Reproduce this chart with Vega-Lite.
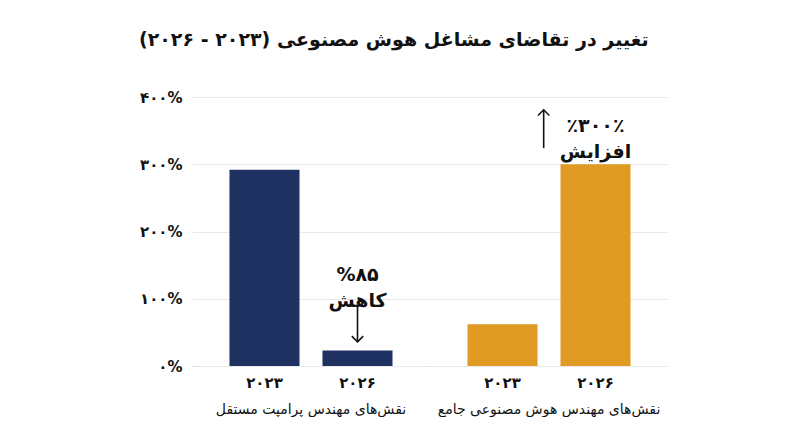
{
  "$schema": "https://vega.github.io/schema/vega-lite/v6.json",
  "background": "white",
  "padding": {"left": 139, "top": 31, "right": 0, "bottom": 0},
  "title": {
    "text": "\u202bتغییر در تقاضای مشاغل هوش مصنوعی (۲۰۲۳ - ۲۰۲۶)\u202c",
    "fontSize": 19,
    "fontWeight": "bold",
    "font": "DejaVu Sans",
    "color": "#111111",
    "anchor": "middle",
    "dx": -10,
    "offset": 40
  },
  "data": {
    "values": [
      {"group": "نقش\u200cهای مهندس پرامپت مستقل", "year": "۲۰۲۳", "value": 292},
      {"group": "نقش\u200cهای مهندس پرامپت مستقل", "year": "۲۰۲۶", "value": 23,
       "note": ["%۸۵", "کاهش"], "noteY": 135, "arrowFrom": 90, "arrowTo": 36},
      {"group": "نقش\u200cهای مهندس هوش مصنوعی جامع", "year": "۲۰۲۳", "value": 62},
      {"group": "نقش\u200cهای مهندس هوش مصنوعی جامع", "year": "۲۰۲۶", "value": 300,
       "note": ["٪۳۰۰٪", "افزایش"], "noteY": 357, "arrowFrom": 324, "arrowTo": 381}
    ]
  },
  "spacing": 0,
  "facet": {
    "column": {
      "field": "group",
      "type": "nominal",
      "sort": ["نقش\u200cهای مهندس پرامپت مستقل", "نقش\u200cهای مهندس هوش مصنوعی جامع"],
      "title": null,
      "header": {
        "labelOrient": "bottom",
        "labelAlign": "center",
        "labelFontSize": 14,
        "labelFontWeight": 500,
        "labelFont": "DejaVu Sans",
        "labelColor": "#111111",
        "labelPadding": 13
      }
    }
  },
  "spec": {
    "width": 238,
    "height": 269,
    "encoding": {
      "x": {
        "field": "year",
        "type": "nominal",
        "sort": ["۲۰۲۳", "۲۰۲۶"],
        "scale": {"paddingInner": 0.247, "paddingOuter": 0.403},
        "axis": {
          "title": null,
          "labelAngle": 0,
          "ticks": false,
          "domainColor": "#777777",
          "labelFontSize": 15,
          "labelFontWeight": "bold",
          "labelFont": "DejaVu Sans",
          "labelColor": "#111111",
          "labelPadding": 9
        }
      }
    },
    "layer": [
      {
        "mark": {"type": "bar"},
        "encoding": {
          "y": {
            "field": "value",
            "type": "quantitative",
            "scale": {"domain": [0, 400]},
            "axis": {
              "title": null,
              "values": [0, 100, 200, 300, 400],
              "labelExpr": "{'0': '۰%', '100': '۱۰۰%', '200': '۲۰۰%', '300': '۳۰۰%', '400': '۴۰۰%'}[datum.value]",
              "domain": false,
              "ticks": false,
              "gridColor": "#e8e8e8",
              "labelFontSize": 15,
              "labelFontWeight": "bold",
              "labelFont": "DejaVu Sans",
              "labelColor": "#111111",
              "labelPadding": 10
            }
          },
          "color": {
            "field": "group",
            "type": "nominal",
            "scale": {
              "domain": ["نقش\u200cهای مهندس پرامپت مستقل", "نقش\u200cهای مهندس هوش مصنوعی جامع"],
              "range": ["#1e3160", "#e09b25"]
            },
            "legend": null
          }
        }
      },
      {
        "transform": [{"filter": "isValid(datum.noteY)"}],
        "mark": {
          "type": "text",
          "fontSize": 19,
          "fontWeight": "bold",
          "font": "DejaVu Sans",
          "color": "#111111",
          "baseline": "middle",
          "lineHeight": 26
        },
        "encoding": {
          "y": {"field": "noteY", "type": "quantitative"},
          "text": {"field": "note"}
        }
      },
      {
        "transform": [{"filter": "isValid(datum.arrowFrom) && datum.arrowTo < datum.arrowFrom"}],
        "layer": [
          {
            "mark": {"type": "rule", "color": "#111111", "strokeWidth": 1.6},
            "encoding": {
              "y": {"field": "arrowFrom", "type": "quantitative"},
              "y2": {"field": "arrowTo"}
            }
          },
          {
            "mark": {"type": "point", "shape": "M-1,-1L0,0L1,-1", "size": 130, "filled": false, "color": "#111111", "strokeWidth": 1.6, "opacity": 1},
            "encoding": {
              "y": {"field": "arrowTo", "type": "quantitative"}
            }
          }
        ]
      },
      {
        "transform": [{"filter": "isValid(datum.arrowFrom) && datum.arrowTo > datum.arrowFrom"}],
        "layer": [
          {
            "mark": {"type": "rule", "color": "#111111", "strokeWidth": 1.6},
            "encoding": {
              "x": {"field": "year", "type": "nominal", "sort": ["۲۰۲۳", "۲۰۲۶"], "bandPosition": -0.24},
              "y": {"field": "arrowFrom", "type": "quantitative"},
              "y2": {"field": "arrowTo"}
            }
          },
          {
            "mark": {"type": "point", "shape": "M-1,1L0,0L1,1", "size": 130, "filled": false, "color": "#111111", "strokeWidth": 1.6, "opacity": 1},
            "encoding": {
              "x": {"field": "year", "type": "nominal", "sort": ["۲۰۲۳", "۲۰۲۶"], "bandPosition": -0.24},
              "y": {"field": "arrowTo", "type": "quantitative"}
            }
          }
        ]
      }
    ]
  },
  "config": {
    "view": {"stroke": null},
    "font": "DejaVu Sans"
  }
}
